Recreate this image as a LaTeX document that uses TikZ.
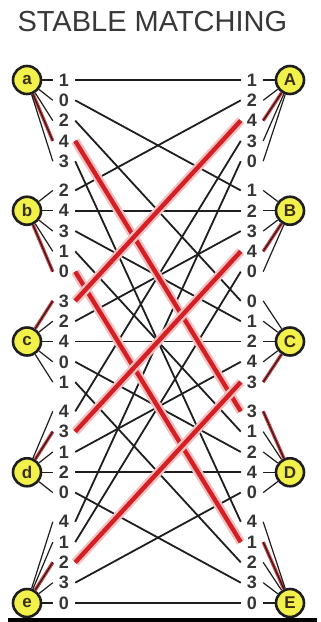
\documentclass[tikz,border=0pt]{standalone}
\usepackage{fontspec}
\setmainfont{Liberation Sans}
\usetikzlibrary{calc}
\definecolor{dotyellow}{HTML}{F2F04A}
\definecolor{ink}{HTML}{1E1E1E}
\definecolor{matchred}{HTML}{D42024}
\definecolor{titlegray}{HTML}{383838}
\definecolor{nodeletter}{HTML}{3A3010}

\begin{document}
\begin{tikzpicture}[x=1pt, y=-1pt,
  person/.style={circle, draw=ink, line width=2.6pt, fill=dotyellow,
    minimum size=28pt, inner sep=0pt, font=\fontsize{17}{17}\selectfont\bfseries,
    text=nodeletter},
  rank/.style={font=\fontsize{18}{18}\selectfont\bfseries, text=ink!90,
    inner xsep=6pt, inner ysep=0pt},
  pair/.style={line width=1.8pt, ink},
  matchline/.style={line width=4.4pt, matchred,
    preaction={draw=matchred!28, line width=9pt}},
  spoke/.style={line width=1.2pt, ink},
  mspoke/.style={line width=3.4pt, matchred!85},
]

\useasboundingbox (0,0) rectangle (321,622);

% Title
\node[font=\fontsize{29}{29}\selectfont, text=titlegray, anchor=base west]
  (title) at (14,31) {STABLE MATCHING};

% =============================================
% People on both sides
% =============================================
\node[person] (a) at (27,80)     {a};
\node[person] (b) at (27,210.75) {b};
\node[person] (c) at (27,341.5)  {c};
\node[person] (d) at (27,472.25) {d};
\node[person] (e) at (27,603)    {e};

\node[person] (A) at (290,80)     {A};
\node[person] (B) at (290,210.75) {B};
\node[person] (C) at (290,341.5)  {C};
\node[person] (D) at (290,472.25) {D};
\node[person] (E) at (290,603)    {E};

% =============================================
% Rank lists (one slot per partner)
% =============================================
\foreach \p/\g/\ranks in {a/0/{A/1,B/0,C/2,D/4,E/3}, b/1/{A/2,B/4,C/3,D/1,E/0},
    c/2/{A/3,B/2,C/4,D/0,E/1}, d/3/{A/4,B/3,C/1,D/2,E/0},
    e/4/{A/4,B/1,C/2,D/3,E/0}}{
  \foreach \q/\r [count=\s from 0] in \ranks
    \node[rank] (\p\q) at (64,{80+110.45*\g+20.3*\s}) {\r};
}

\foreach \p/\g/\ranks in {A/0/{a/1,b/2,c/4,d/3,e/0}, B/1/{a/1,b/2,c/3,d/4,e/0},
    C/2/{a/0,b/1,c/2,d/4,e/3}, D/3/{a/3,b/1,c/2,d/4,e/0},
    E/4/{a/4,b/1,c/2,d/3,e/0}}{
  \foreach \q/\r [count=\s from 0] in \ranks
    \node[rank] (\p\q) at (252,{80+110.45*\g+20.3*\s}) {\r};
}

% =============================================
% Spokes from each person to its ranks
% =============================================
\draw[mspoke] (a) -- (aD.west);
\draw[mspoke] (b) -- (bE.west);
\draw[mspoke] (c) -- (cA.west);
\draw[mspoke] (d) -- (dB.west);
\draw[mspoke] (e) -- (eC.west);
\draw[mspoke] (A) -- (Ac.east);
\draw[mspoke] (B) -- (Bd.east);
\draw[mspoke] (C) -- (Ce.east);
\draw[mspoke] (D) -- (Da.east);
\draw[mspoke] (E) -- (Eb.east);

\foreach \p in {a,b,c,d,e}
  \foreach \q in {A,B,C,D,E}{
    \draw[spoke] (\p) -- (\p\q.west);
    \draw[spoke] (\q) -- (\q\p.east);
  }

% All pairs
\foreach \p in {a,b,c,d,e}
  \foreach \q in {A,B,C,D,E}
    \draw[pair] (\p\q.east) -- (\q\p.west);

% =============================================
% Stable matching (red)
% =============================================
\draw[matchline] (aD.east) -- (Da.west);
\draw[matchline] (bE.east) -- (Eb.west);
\draw[matchline] (cA.east) -- (Ac.west);
\draw[matchline] (dB.east) -- (Bd.west);
\draw[matchline] (eC.east) -- (Ce.west);

% bottom rule
\fill[black] (8,618) rectangle (317,621.5);

\end{tikzpicture}
\end{document}
